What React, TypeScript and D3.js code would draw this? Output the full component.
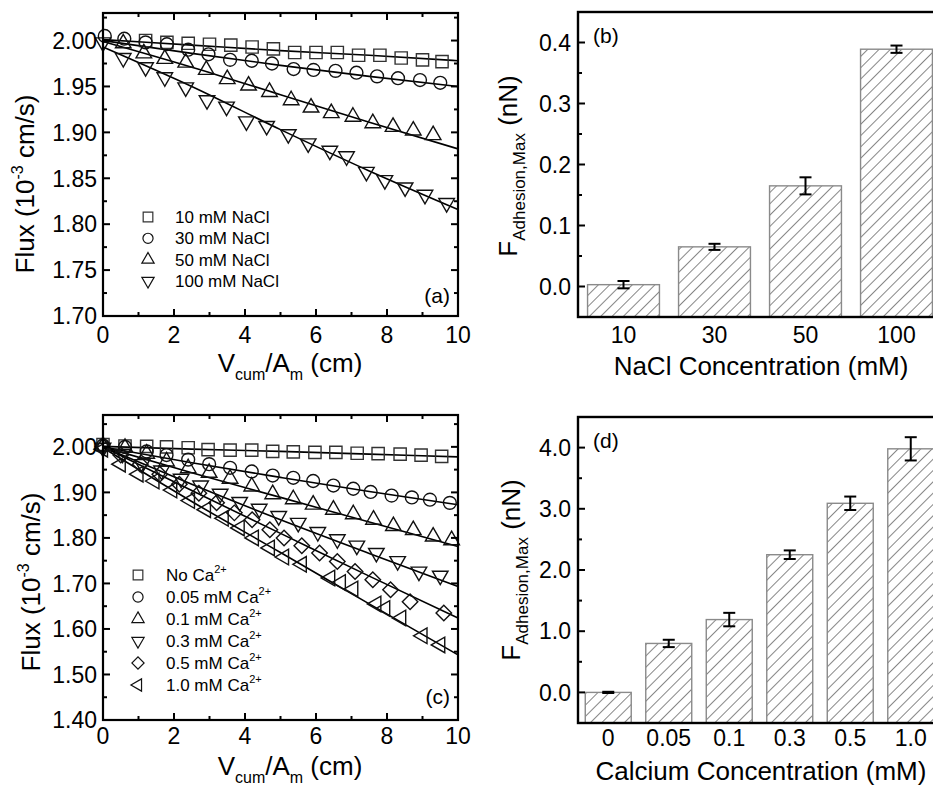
import React from "react";
import * as d3 from "d3";

const FONT = "'Liberation Sans', Arial, Helvetica, sans-serif";

// ---------- Panel (a): NaCl series ----------
const naclNames = ["10 mM NaCl", "30 mM NaCl", "50 mM NaCl", "100 mM NaCl"];
const a10X = [1.2, 1.8, 2.4, 3.0, 3.6, 4.2, 4.8, 5.4, 6.0, 6.6, 7.2, 7.8, 8.4, 9.0, 9.55];
const a10Y = [2.000, 1.998, 1.997, 1.996, 1.995, 1.993, 1.991, 1.987, 1.987, 1.987, 1.984, 1.984, 1.981, 1.979, 1.977];
const a30X = [0.05, 0.6, 1.2, 1.8, 2.4, 2.97, 3.58, 4.19, 4.76, 5.37, 5.93, 6.55, 7.14, 7.72, 8.31, 8.93, 9.5];
const a30Y = [2.005, 2.002, 1.998, 1.996, 1.990, 1.985, 1.979, 1.978, 1.975, 1.969, 1.968, 1.967, 1.965, 1.961, 1.959, 1.957, 1.954];
const a50X = [0.57, 1.15, 1.74, 2.33, 2.91, 3.5, 4.1, 4.69, 5.3, 5.86, 6.43, 7.04, 7.6, 8.17, 8.74, 9.3];
const a50Y = [1.997, 1.986, 1.980, 1.976, 1.968, 1.958, 1.951, 1.944, 1.935, 1.927, 1.921, 1.917, 1.910, 1.906, 1.902, 1.897];
const a100X = [0.0, 0.57, 1.2, 1.74, 2.33, 2.93, 3.48, 4.04, 4.61, 5.22, 5.78, 6.39, 6.86, 7.42, 7.94, 8.51, 9.07, 9.68];
const a100Y = [1.998, 1.981, 1.971, 1.960, 1.949, 1.935, 1.928, 1.912, 1.907, 1.898, 1.888, 1.880, 1.874, 1.857, 1.848, 1.840, 1.832, 1.823];
const fitX = [0, 2.5, 5, 7.5, 10];
const a10Fit = [2.001, 1.995, 1.989, 1.984, 1.978];
const a30Fit = [2.000, 1.986, 1.973, 1.961, 1.950];
const a50Fit = [1.999, 1.971, 1.941, 1.911, 1.882];
const a100Fit = [1.993, 1.950, 1.903, 1.858, 1.816];

// ---------- Panel (c): Ca series ----------
const caNames = ["No Ca", "0.05 mM Ca", "0.1 mM Ca", "0.3 mM Ca", "0.5 mM Ca", "1.0 mM Ca"];
const c0X = [0.0, 0.62, 1.23, 1.79, 2.4, 2.96, 3.58, 4.19, 4.78, 5.36, 5.97, 6.56, 7.16, 7.75, 8.37, 8.96, 9.54];
const c0Y = [2.005, 2.002, 2.001, 2.000, 1.998, 1.994, 1.993, 1.993, 1.990, 1.989, 1.988, 1.988, 1.986, 1.985, 1.984, 1.982, 1.979];
const c005X = [0.0, 0.62, 1.23, 1.79, 2.4, 2.99, 3.58, 4.19, 4.78, 5.36, 5.92, 6.49, 7.05, 7.54, 8.13, 8.7, 9.21, 9.77];
const c005Y = [2.003, 2.000, 1.990, 1.982, 1.972, 1.962, 1.954, 1.946, 1.937, 1.932, 1.925, 1.915, 1.908, 1.901, 1.893, 1.889, 1.884, 1.877];
const c01X = [0.0, 0.62, 1.23, 1.79, 2.4, 2.99, 3.58, 4.19, 4.78, 5.36, 5.92, 6.49, 7.05, 7.62, 8.18, 8.74, 9.3, 9.82];
const c01Y = [2.002, 1.998, 1.985, 1.968, 1.953, 1.943, 1.930, 1.913, 1.896, 1.885, 1.873, 1.862, 1.852, 1.840, 1.826, 1.817, 1.803, 1.795];
const c03X = [0.0, 0.55, 1.1, 1.65, 2.2, 2.75, 3.3, 3.85, 4.4, 4.95, 5.5, 6.05, 6.6, 7.15, 7.7, 8.3, 8.9, 9.5];
const c03Y = [1.998, 1.985, 1.962, 1.948, 1.930, 1.915, 1.897, 1.879, 1.864, 1.848, 1.833, 1.813, 1.797, 1.783, 1.767, 1.749, 1.726, 1.717];
const c05X = [0.0, 0.5, 1.05, 1.6, 2.15, 2.7, 3.2, 3.7, 4.2, 4.7, 5.1, 5.6, 6.1, 6.6, 7.1, 7.6, 8.1, 8.65, 9.6];
const c05Y = [2.000, 1.982, 1.962, 1.940, 1.918, 1.898, 1.877, 1.855, 1.840, 1.818, 1.800, 1.783, 1.767, 1.748, 1.726, 1.708, 1.686, 1.660, 1.635];
const c10X = [0.0, 0.5, 1.0, 1.45, 1.95, 2.45, 2.9, 3.4, 3.85, 4.25, 4.7, 5.1, 5.6, 6.4, 6.7, 7.05, 7.7, 7.95, 8.4, 9.0, 9.5];
const c10Y = [1.995, 1.962, 1.940, 1.925, 1.905, 1.882, 1.862, 1.843, 1.822, 1.800, 1.778, 1.758, 1.742, 1.712, 1.702, 1.688, 1.655, 1.645, 1.624, 1.585, 1.565];
const c0Fit = [2.001, 1.995, 1.990, 1.984, 1.978];
const c005Fit = [2.000, 1.965, 1.933, 1.902, 1.873];
const c01Fit = [2.000, 1.943, 1.889, 1.835, 1.781];
const c03Fit = [2.000, 1.918, 1.840, 1.766, 1.693];
const c05Fit = [2.000, 1.904, 1.810, 1.716, 1.624];
const c10Fit = [1.998, 1.880, 1.768, 1.655, 1.543];

// ---------- Panel (b) ----------
const naclCats = ["10", "30", "50", "100"];
const naclForce = [0.003, 0.065, 0.165, 0.389];
const naclErr = [0.006, 0.005, 0.014, 0.006];

// ---------- Panel (d) ----------
const caCats = ["0", "0.05", "0.1", "0.3", "0.5", "1.0"];
const caForce = [0.0, 0.80, 1.19, 2.25, 3.09, 3.98];
const caErr = [0.01, 0.06, 0.11, 0.07, 0.11, 0.19];

type Sym = "square" | "circle" | "up" | "down" | "diamond" | "left";
type Series = { name: string; sup?: string; sym: Sym; xs: number[]; ys: number[]; fit: number[] };

const seriesA: Series[] = [
  { name: naclNames[0], sym: "square", xs: a10X, ys: a10Y, fit: a10Fit },
  { name: naclNames[1], sym: "circle", xs: a30X, ys: a30Y, fit: a30Fit },
  { name: naclNames[2], sym: "up", xs: a50X, ys: a50Y, fit: a50Fit },
  { name: naclNames[3], sym: "down", xs: a100X, ys: a100Y, fit: a100Fit },
];
const seriesC: Series[] = [
  { name: caNames[0], sup: "2+", sym: "square", xs: c0X, ys: c0Y, fit: c0Fit },
  { name: caNames[1], sup: "2+", sym: "circle", xs: c005X, ys: c005Y, fit: c005Fit },
  { name: caNames[2], sup: "2+", sym: "up", xs: c01X, ys: c01Y, fit: c01Fit },
  { name: caNames[3], sup: "2+", sym: "down", xs: c03X, ys: c03Y, fit: c03Fit },
  { name: caNames[4], sup: "2+", sym: "diamond", xs: c05X, ys: c05Y, fit: c05Fit },
  { name: caNames[5], sup: "2+", sym: "left", xs: c10X, ys: c10Y, fit: c10Fit },
];

function symbolPath(sym: Sym, scale: number): { d: string; rot: number } {
  const s = scale;
  switch (sym) {
    case "square":
      return { d: d3.symbol(d3.symbolSquare, 150 * s)() as string, rot: 0 };
    case "circle":
      return { d: d3.symbol(d3.symbolCircle, 130 * s)() as string, rot: 0 };
    case "up":
      return { d: d3.symbol(d3.symbolTriangle, 105 * s)() as string, rot: 0 };
    case "down":
      return { d: d3.symbol(d3.symbolTriangle, 105 * s)() as string, rot: 180 };
    case "left":
      return { d: d3.symbol(d3.symbolTriangle, 105 * s)() as string, rot: -90 };
    case "diamond":
      return { d: d3.symbol(d3.symbolSquare, 120 * s)() as string, rot: 45 };
  }
}

function Marker({ sym, x, y, scale, sw }: { sym: Sym; x: number; y: number; scale: number; sw: number }) {
  const p = symbolPath(sym, scale);
  return (
    <path
      d={p.d}
      transform={`translate(${x},${y}) rotate(${p.rot})`}
      fill="none"
      stroke={sym === "square" ? "#333" : "#111"}
      strokeWidth={sw}
    />
  );
}

type ScatterProps = {
  top: number;
  bottom: number;
  yDomain: [number, number];
  yMajor: number;
  series: Series[];
  legendX: number;
  legendTextX: number;
  legendY: number;
  legendStep: number;
  tag: string;
  tagY: number;
  yLabelX: number;
  yLabelY: number;
  xTickY: number;
  xLabelY: number;
};

function ticksBetween(lo: number, hi: number, step: number): number[] {
  const out: number[] = [];
  const start = Math.ceil(lo / step - 1e-6);
  for (let i = start; i * step <= hi + 1e-6; i++) out.push(+(i * step).toFixed(4));
  return out;
}

function ScatterPanel(p: ScatterProps) {
  const left = 103;
  const right = 458;
  const x = d3.scaleLinear().domain([0, 10]).range([left, right]);
  const y = d3.scaleLinear().domain(p.yDomain).range([p.bottom, p.top]);
  const xMajor = ticksBetween(0, 10, 2);
  const xMinor = ticksBetween(0, 10, 1).filter((v) => !xMajor.includes(v));
  const yMaj = ticksBetween(p.yDomain[0], p.yDomain[1], p.yMajor);
  const yMin = ticksBetween(p.yDomain[0], p.yDomain[1], p.yMajor / 2).filter(
    (v) => !yMaj.some((m) => Math.abs(m - v) < 1e-6)
  );
  const line = d3
    .line<[number, number]>()
    .x((d) => x(d[0]))
    .y((d) => y(d[1]))
    .curve(d3.curveMonotoneX);
  const fmt = d3.format(".2f");
  const MJ = 7;
  const MN = 4;
  return (
    <g fontFamily={FONT}>
      {p.series.map((s, i) => (
        <path
          key={"f" + i}
          d={line(fitX.map((v, k) => [v, s.fit[k]] as [number, number])) as string}
          fill="none"
          stroke="#000"
          strokeWidth={1.6}
        />
      ))}
      {p.series.map((s, i) => (
        <g key={"m" + i}>
          {s.xs.map((xv, k) => (
            <Marker key={k} sym={s.sym} x={x(xv)} y={y(s.ys[k])} scale={1} sw={1.4} />
          ))}
        </g>
      ))}
      <rect x={left} y={p.top} width={right - left} height={p.bottom - p.top} fill="none" stroke="#000" strokeWidth={2.2} />
      {xMajor.map((v) => (
        <g key={"xm" + v}>
          <line x1={x(v)} x2={x(v)} y1={p.bottom} y2={p.bottom - MJ} stroke="#000" strokeWidth={2} />
          <line x1={x(v)} x2={x(v)} y1={p.top} y2={p.top + MJ} stroke="#000" strokeWidth={2} />
          <text x={x(v)} y={p.xTickY} textAnchor="middle" fontSize={23}>
            {v}
          </text>
        </g>
      ))}
      {xMinor.map((v) => (
        <g key={"xn" + v}>
          <line x1={x(v)} x2={x(v)} y1={p.bottom} y2={p.bottom - MN} stroke="#000" strokeWidth={2} />
          <line x1={x(v)} x2={x(v)} y1={p.top} y2={p.top + MN} stroke="#000" strokeWidth={2} />
        </g>
      ))}
      {yMaj.map((v) => (
        <g key={"ym" + v}>
          <line x1={left} x2={left + MJ} y1={y(v)} y2={y(v)} stroke="#000" strokeWidth={2} />
          <line x1={right} x2={right - MJ} y1={y(v)} y2={y(v)} stroke="#000" strokeWidth={2} />
          <text x={97} y={y(v)} dy="0.36em" textAnchor="end" fontSize={23}>
            {fmt(v)}
          </text>
        </g>
      ))}
      {yMin.map((v) => (
        <g key={"yn" + v}>
          <line x1={left} x2={left + MN} y1={y(v)} y2={y(v)} stroke="#000" strokeWidth={2} />
          <line x1={right} x2={right - MN} y1={y(v)} y2={y(v)} stroke="#000" strokeWidth={2} />
        </g>
      ))}
      {p.series.map((s, i) => {
        const ly = p.legendY + i * p.legendStep;
        return (
          <g key={"l" + i}>
            <Marker sym={s.sym} x={p.legendX} y={ly} scale={0.62} sw={1.2} />
            <text x={p.legendTextX} y={ly + 6} fontSize={17}>
              {s.name}
              {s.sup ? (
                <tspan fontSize={11} dy={-8}>
                  {s.sup}
                </tspan>
              ) : null}
            </text>
          </g>
        );
      })}
      <text x={450} y={p.tagY} textAnchor="end" fontSize={21}>
        {p.tag}
      </text>
      <text transform={`translate(${p.yLabelX},${p.yLabelY}) rotate(-90)`} textAnchor="middle" fontSize={26}>
        Flux (10
        <tspan fontSize={16} dy={-11}>
          -3
        </tspan>
        <tspan dy={11}> cm/s)</tspan>
      </text>
      <text x={290} y={p.xLabelY} textAnchor="middle" fontSize={26}>
        V
        <tspan fontSize={16} dy={8}>
          cum
        </tspan>
        <tspan dy={-8}>/A</tspan>
        <tspan fontSize={16} dy={8}>
          m
        </tspan>
        <tspan dy={-8}> (cm)</tspan>
      </text>
    </g>
  );
}

type BarProps = {
  top: number;
  bottom: number;
  yDomain: [number, number];
  yMajor: number;
  cats: string[];
  vals: number[];
  errs: number[];
  step: number;
  widthFrac: number;
  tag: string;
  tagY: number;
  xTickY: number;
  xLabel: string;
  xLabelY: number;
  yLabelX: number;
  yLabelY: number;
  patternId: string;
};

function BarPanel(p: BarProps) {
  const left = 578;
  const x = d3
    .scalePoint<string>()
    .domain(p.cats)
    .range([left, left + p.cats.length * p.step])
    .padding(0.5);
  const y = d3.scaleLinear().domain(p.yDomain).range([p.bottom, p.top]);
  const bw = p.step * p.widthFrac;
  const yMaj = ticksBetween(p.yDomain[0], p.yDomain[1], p.yMajor).filter((v) => v >= 0);
  const yMin = ticksBetween(p.yDomain[0], p.yDomain[1], p.yMajor / 2).filter(
    (v) => !yMaj.some((m) => Math.abs(m - v) < 1e-6) && v > p.yDomain[0] + 1e-6
  );
  const fmt = d3.format(".1f");
  const right = left + p.cats.length * p.step;
  return (
    <g fontFamily={FONT}>
      <defs>
        <pattern id={p.patternId} patternUnits="userSpaceOnUse" width={8} height={8} patternTransform="rotate(45)">
          <line x1={0} y1={0} x2={0} y2={8} stroke="#222" strokeWidth={1.1} />
        </pattern>
      </defs>
      {p.cats.map((c, i) => (
        <rect
          key={"b" + c}
          x={(x(c) as number) - bw / 2}
          y={y(p.vals[i])}
          width={bw}
          height={p.bottom - y(p.vals[i])}
          fill={`url(#${p.patternId})`}
          stroke="#8a8a8a"
          strokeWidth={1.4}
        />
      ))}
      {p.cats.map((c, i) => {
        const cx = x(c) as number;
        const y1 = y(p.vals[i] + p.errs[i]);
        const y0 = y(p.vals[i] - p.errs[i]);
        return (
          <g key={"e" + c} stroke="#000" strokeWidth={2}>
            <line x1={cx} x2={cx} y1={y1} y2={y0} />
            <line x1={cx - 6} x2={cx + 6} y1={y1} y2={y1} />
            <line x1={cx - 6} x2={cx + 6} y1={y0} y2={y0} />
          </g>
        );
      })}
      <rect x={left} y={p.top} width={right - left} height={p.bottom - p.top} fill="none" stroke="#000" strokeWidth={2.4} />
      {yMaj.map((v) => (
        <g key={"ym" + v}>
          <line x1={left} x2={left + 7} y1={y(v)} y2={y(v)} stroke="#000" strokeWidth={2} />
          <text x={571} y={y(v)} dy="0.36em" textAnchor="end" fontSize={23}>
            {fmt(v)}
          </text>
        </g>
      ))}
      {yMin.map((v) => (
        <line key={"yn" + v} x1={left} x2={left + 4} y1={y(v)} y2={y(v)} stroke="#000" strokeWidth={2} />
      ))}
      {p.cats.map((c) => (
        <text key={"t" + c} x={x(c) as number} y={p.xTickY} textAnchor="middle" fontSize={23}>
          {c}
        </text>
      ))}
      <text x={593} y={p.tagY} fontSize={21}>
        {p.tag}
      </text>
      <text x={761} y={p.xLabelY} textAnchor="middle" fontSize={26}>
        {p.xLabel}
      </text>
      <text transform={`translate(${p.yLabelX},${p.yLabelY}) rotate(-90)`} textAnchor="middle" fontSize={26}>
        F
        <tspan fontSize={17} dy={8}>
          Adhesion,Max
        </tspan>
        <tspan dy={-8}> (nN)</tspan>
      </text>
    </g>
  );
}

export default function App() {
  return (
    <svg
      width={933}
      height={785}
      style={{ position: "absolute", left: 0, top: 0, background: "#fff" }}
      xmlns="http://www.w3.org/2000/svg"
    >
      <rect x={0} y={0} width={933} height={785} fill="#fff" />
      <ScatterPanel
        top={13}
        bottom={316}
        yDomain={[1.7, 2.03]}
        yMajor={0.05}
        series={seriesA}
        legendX={148}
        legendTextX={175}
        legendY={217}
        legendStep={21.3}
        tag="(a)"
        tagY={303}
        yLabelX={34}
        yLabelY={184}
        xTickY={343}
        xLabelY={372}
      />
      <ScatterPanel
        top={415}
        bottom={720}
        yDomain={[1.4, 2.07]}
        yMajor={0.1}
        series={seriesC}
        legendX={138}
        legendTextX={166}
        legendY={575}
        legendStep={22}
        tag="(c)"
        tagY={704}
        yLabelX={40}
        yLabelY={582}
        xTickY={744}
        xLabelY={775}
      />
      <BarPanel
        top={12}
        bottom={317}
        yDomain={[-0.05, 0.45]}
        yMajor={0.1}
        cats={naclCats}
        vals={naclForce}
        errs={naclErr}
        step={91}
        widthFrac={0.79}
        tag="(b)"
        tagY={43}
        xTickY={343}
        xLabel="NaCl Concentration (mM)"
        xLabelY={375}
        yLabelX={517}
        yLabelY={166}
        patternId="hatchB"
      />
      <BarPanel
        top={417}
        bottom={723}
        yDomain={[-0.5, 4.5]}
        yMajor={1}
        cats={caCats}
        vals={caForce}
        errs={caErr}
        step={60.5}
        widthFrac={0.76}
        tag="(d)"
        tagY={448}
        xTickY={746}
        xLabel="Calcium Concentration (mM)"
        xLabelY={780}
        yLabelX={520}
        yLabelY={570}
        patternId="hatchD"
      />
    </svg>
  );
}
